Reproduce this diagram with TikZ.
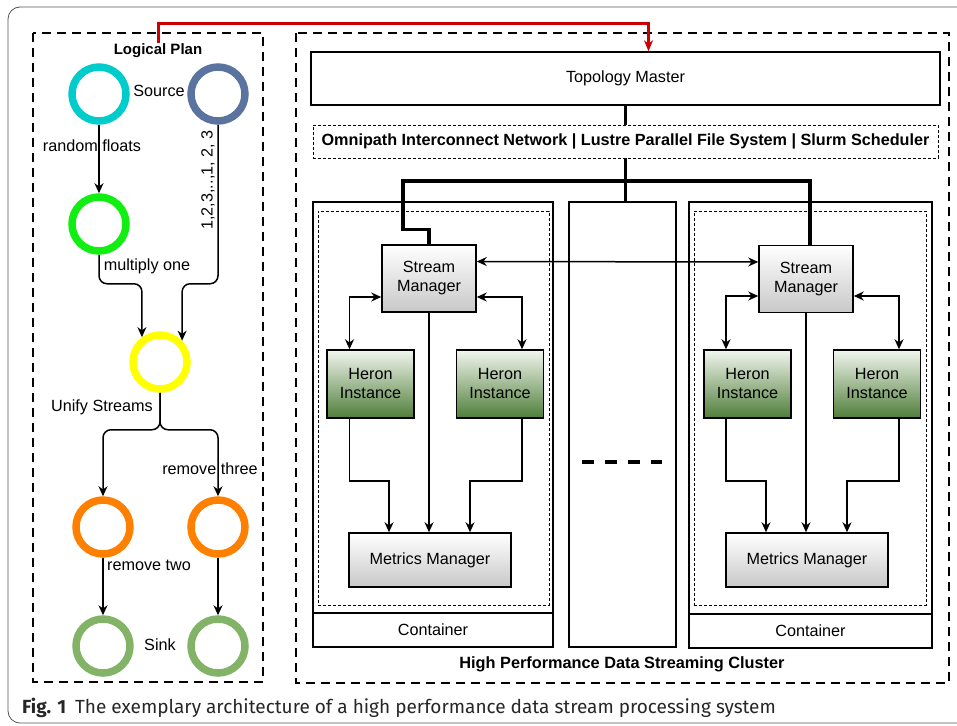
\documentclass[tikz,border=0pt]{standalone}
\usepackage{fontspec}
\setmainfont{Liberation Sans}
\newfontfamily\captionfont{Fira Sans}
\usetikzlibrary{arrows.meta}

\definecolor{srccyan}{HTML}{00CCCC}
\definecolor{srcblue}{HTML}{5B749F}
\definecolor{mulgreen}{HTML}{11EE11}
\definecolor{unifyellow}{HTML}{FFFF00}
\definecolor{remorange}{HTML}{FF8000}
\definecolor{sinkgreen}{HTML}{82B366}
\definecolor{planred}{HTML}{CC0000}
\definecolor{smgray}{HTML}{C8C8C8}
\definecolor{heronlt}{HTML}{F2F6EE}
\definecolor{herondk}{HTML}{4F7E3A}
\definecolor{framegray}{HTML}{555555}

\tikzset{
  ring/.style={circle, draw=#1, line width=7.5pt, minimum size=54pt, inner sep=0pt},
  lbl/.style={font=\fontsize{16.2}{19}\selectfont, inner sep=1pt},
  title/.style={font=\fontsize{15}{18}\selectfont\bfseries, inner sep=1pt},
  flow/.style={line width=1.5pt, rounded corners=8pt, -{Stealth[length=10pt,width=9pt]}},
  biflow/.style={line width=1.5pt, {Stealth[length=10pt,width=9pt]}-{Stealth[length=10pt,width=9pt]}},
  redflow/.style={planred, line width=3pt, -{Stealth[length=11pt,width=9pt]}},
  wire/.style={line width=3.5pt},
  bigdash/.style={line width=2.5pt, dash pattern=on 9pt off 6pt},
  smalldash/.style={draw, line width=0.8pt, dash pattern=on 3pt off 2pt},
  plainbox/.style={draw, line width=1.5pt, font=\fontsize{16.2}{19}\selectfont, align=center, inner sep=1pt},
  smbox/.style={plainbox, top color=white, bottom color=smgray, minimum width=94pt, minimum height=67pt},
  heronbox/.style={plainbox, top color=heronlt, bottom color=herondk, minimum width=87pt, minimum height=68pt},
  mmbox/.style={plainbox, top color=white, bottom color=smgray, minimum width=162pt, minimum height=54pt},
}

\begin{document}
\begin{tikzpicture}[x=1pt,y=-1pt]
  \useasboundingbox (0,0) rectangle (957,725);
  \clip (0,0) rectangle (957,725);
  \draw[framegray, line width=0.8pt, rounded corners=12pt] (8,7) rectangle (1000,723);

  % logical plan
  \draw[bigdash] (33,33) rectangle (263,682);
  \node[title] (plan) at (158,51) {Logical Plan};
  \node[ring=srccyan] (srcA) at (99,94) {};
  \node[ring=srcblue] (srcB) at (218,94) {};
  \node[ring=mulgreen] (mul) at (99,224) {};
  \node[ring=unifyellow] (unify) at (160,362) {};
  \node[ring=remorange] (remA) at (103,527) {};
  \node[ring=remorange] (remB) at (218,527) {};
  \node[ring=sinkgreen] (sinkA) at (103,646) {};
  \node[ring=sinkgreen] (sinkB) at (218,646) {};

  \draw[flow] (srcA) -- (mul);
  \draw[flow] (mul.south) -- ++(0,29) -| (unify.126);
  \draw[flow] (srcB.south) -- ++(0,159) -| (unify.44);
  \draw[flow] (unify.south) -- ++(0,37) -| (remA.north);
  \draw[flow] (unify.south) -- ++(0,37) -| (remB.north);
  \draw[flow] (remA) -- (sinkA);
  \draw[flow] (remB) -- (sinkB);

  \node[lbl] (lblsource) at (159,91) {Source};
  \node[lbl] (lblrandom) at (92,146) {random floats};
  \node[lbl, rotate=90] (lblseq) at (208,180) {1,2,3,..,1, 2, 3};
  \node[lbl] (lblmult) at (147,266) {multiply one};
  \node[lbl] (lblunify) at (102,407) {Unify Streams};
  \node[lbl] (lblthree) at (210,469) {remove three};
  \node[lbl] (lbltwo) at (149,565) {remove two};
  \node[lbl] (lblsink) at (160,645) {Sink};

  % cluster
  \draw[bigdash] (296,33) rectangle (949,683);
  \node[plainbox, minimum width=629pt, minimum height=53pt] (topo) at (625.5,78.5) {Topology Master};
  \node[smalldash, minimum width=625pt, minimum height=33pt, inner sep=0pt] (net) at (625.5,141.5)
    {\fontsize{16.2}{19}\selectfont\bfseries Omnipath Interconnect Network | Lustre Parallel File System | Slurm Scheduler};
  \node[title, font=\fontsize{16.3}{19}\selectfont\bfseries] (cluster) at (622,664) {High Performance Data Streaming Cluster};

  \node[plainbox, minimum width=240pt, minimum height=445pt] (contA) at (433,424.5) {};
  \node[plainbox, minimum width=240pt, minimum height=34pt] (contAlbl) at (433,630) {Container};
  \node[smalldash, minimum width=231pt, minimum height=394pt] (podA) at (433.5,408) {};
  \node[plainbox, minimum width=107pt, minimum height=445pt] (midbox) at (622.5,424.5) {};
  \node[plainbox, minimum width=243pt, minimum height=446pt] (contB) at (810.5,425) {};
  \node[plainbox, minimum width=243pt, minimum height=34pt] (contBlbl) at (810.5,631) {Container};
  \node[smalldash, minimum width=232pt, minimum height=394pt] (podB) at (810,408) {};
  \draw[line width=4pt, dash pattern=on 12pt off 11pt] (582,462) -- (662,462);

  \node[smbox] (smA) at (429,278.5) {Stream\\Manager};
  \node[heronbox] (hA1) at (370.5,384) {Heron\\Instance};
  \node[heronbox] (hA2) at (500,384) {Heron\\Instance};
  \node[mmbox] (mmA) at (430,560) {Metrics Manager};

  \node[smbox] (smB) at (806,279) {Stream\\Manager};
  \node[heronbox] (hB1) at (747.5,384) {Heron\\Instance};
  \node[heronbox] (hB2) at (877,384) {Heron\\Instance};
  \node[mmbox] (mmB) at (807,560) {Metrics Manager};

  % thick links
  \draw[wire] (topo.south) -- (net.north);
  \draw[wire] (net.south) -- (net.south |- midbox.north);
  \coordinate (busR) at (810,181);
  \draw[wire] (smA.north) -- ++(0,-15) -- ++(-26,0) |- (busR) -- (busR |- smB.north);

  % red link
  \draw[redflow] (plan.north) |- ([xshift=23pt,yshift=28pt]topo.north) -- ([xshift=23pt]topo.north);

  % container links
  \draw[biflow] ([yshift=17pt]smA.east) -- ([yshift=17pt]smB.west);
  \draw[biflow] ([yshift=-18.5pt]smA.west) -| ([xshift=-21pt]hA1.north);
  \draw[biflow] ([yshift=-18.5pt]smA.east) -| ([xshift=22pt]hA2.north);
  \draw[flow, rounded corners=0pt] ([xshift=-21pt]hA1.south) -- ++(0,62) -| ([xshift=-41pt]mmA.north);
  \draw[flow, rounded corners=0pt] ([xshift=22pt]hA2.south) -- ++(0,62) -| ([xshift=40pt]mmA.north);
  \draw[flow] (smA.south) -- (smA.south |- mmA.north);

  \draw[biflow] ([yshift=-17pt]smB.west) -| ([xshift=-21.5pt]hB1.north);
  \draw[biflow] ([yshift=-17pt]smB.east) -| ([xshift=22pt]hB2.north);
  \draw[flow, rounded corners=0pt] ([xshift=-21.5pt]hB1.south) -- ++(0,62) -| ([xshift=-41pt]mmB.north);
  \draw[flow, rounded corners=0pt] ([xshift=22pt]hB2.south) -- ++(0,62) -| ([xshift=40pt]mmB.north);
  \draw[flow] (smB.south) -- (smB.south |- mmB.north);

  % caption
  \node[anchor=base west, inner sep=0pt, text=black!85, font=\captionfont\fontsize{19}{22}\selectfont] (caption) at (22,713)
    {\textbf{Fig. 1}\hspace{9pt}The exemplary architecture of a high performance data stream processing system};
\end{tikzpicture}
\end{document}
